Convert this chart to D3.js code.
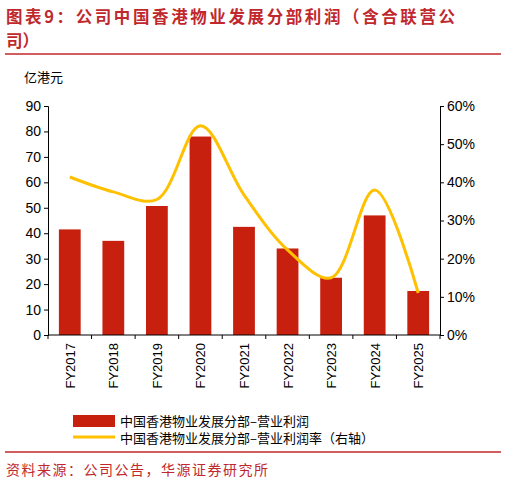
<!DOCTYPE html>
<html><head><meta charset="utf-8">
<script src="https://cdn.jsdelivr.net/npm/d3@7"></script>
<style>body{margin:0;background:#fff}</style></head>
<body><svg id="c" width="506" height="486"></svg>
<script>
const categories=["FY2017","FY2018","FY2019","FY2020","FY2021","FY2022","FY2023","FY2024","FY2025"];
const profit=[41.5,37,50.7,78,42.5,34,22.5,47,17.3];
const margin=[41.4,37.5,35.5,54.8,36.7,22.3,15,38,11];
const leftTicks=[0,10,20,30,40,50,60,70,80,90];
const rightTicks=[0,10,20,30,40,50,60];
const svg=d3.select("#c");
const red="#c0282d", font="'Noto Sans CJK SC',sans-serif";
svg.append("text").attr("x",6).attr("y",23).attr("fill",red).attr("font-family",font).attr("font-weight","bold").attr("font-size",16.5).attr("letter-spacing",2.6).text("图表9：公司中国香港物业发展分部利润（含合联营公");
svg.append("text").attr("x",6).attr("y",47).attr("fill",red).attr("font-family",font).attr("font-weight","bold").attr("font-size",16.5).text("司）");
svg.append("line").attr("x1",5).attr("x2",501).attr("y1",54).attr("y2",54).attr("stroke",red).attr("stroke-width",1.5);
svg.append("line").attr("x1",5).attr("x2",501).attr("y1",452).attr("y2",452).attr("stroke",red).attr("stroke-width",1.5);
svg.append("text").attr("x",6).attr("y",475).attr("fill",red).attr("font-family",font).attr("font-size",14).attr("letter-spacing",1.5).text("资料来源：公司公告，华源证券研究所");
svg.append("text").attr("x",24).attr("y",82).attr("font-family",font).attr("font-size",13).attr("fill","#000").text("亿港元");
const L=48,R=440,T=106,B=335;
const x=d3.scaleBand().domain(categories).range([L,R]).paddingInner(0.5).paddingOuter(0.25);
const yl=d3.scaleLinear().domain([0,90]).range([B,T]);
const yr=d3.scaleLinear().domain([0,60]).range([B,T]);
const step=(R-L)/categories.length;
svg.selectAll(".bar").data(profit).join("rect").attr("x",(d,i)=>x(categories[i])).attr("width",x.bandwidth()).attr("y",d=>yl(d)).attr("height",d=>B-yl(d)).attr("fill","#c8200e");
const line=d3.line().x((d,i)=>x(categories[i])+x.bandwidth()/2).y(d=>yr(d)).curve(d3.curveCatmullRom.alpha(0.5));
svg.append("path").datum(margin).attr("d",line).attr("fill","none").attr("stroke","#ffc000").attr("stroke-width",3);
const ga=svg.append("g").attr("transform",`translate(${L},0)`).call(d3.axisLeft(yl).tickValues(leftTicks).tickSize(4));
const gr=svg.append("g").attr("transform",`translate(${R},0)`).call(d3.axisRight(yr).tickValues(rightTicks).tickSize(4).tickFormat(d=>d+"%"));
const gx=svg.append("g").attr("transform",`translate(0,${B})`);
gx.append("line").attr("x1",L).attr("x2",R).attr("stroke","#000");
const bounds=d3.range(categories.length+1).map(i=>L+i*step);
gx.selectAll(".t").data(bounds).join("line").attr("x1",d=>d).attr("x2",d=>d).attr("y1",0).attr("y2",4).attr("stroke","#000");
gx.selectAll(".l").data(categories).join("text").attr("transform",d=>`translate(${x(d)+x.bandwidth()/2+5},8) rotate(-90)`).attr("text-anchor","end").attr("font-family","Liberation Sans,Arial").attr("font-size",13).text(d=>d);
[ga,gr].forEach(g=>{g.select(".domain").attr("stroke","#000");g.selectAll("text").attr("font-family","Liberation Sans,Arial").attr("font-size",14).attr("fill","#000");g.selectAll("line").attr("stroke","#000");});
svg.append("rect").attr("x",73).attr("y",415).attr("width",42).attr("height",12).attr("fill","#c8200e");
svg.append("line").attr("x1",73).attr("x2",115).attr("y1",437).attr("y2",437).attr("stroke","#ffc000").attr("stroke-width",3);
svg.append("text").attr("x",120).attr("y",426).attr("font-family",font).attr("font-size",13).text("中国香港物业发展分部–营业利润");
svg.append("text").attr("x",120).attr("y",443).attr("font-family",font).attr("font-size",13).text("中国香港物业发展分部–营业利润率（右轴）");
</script></body></html>
